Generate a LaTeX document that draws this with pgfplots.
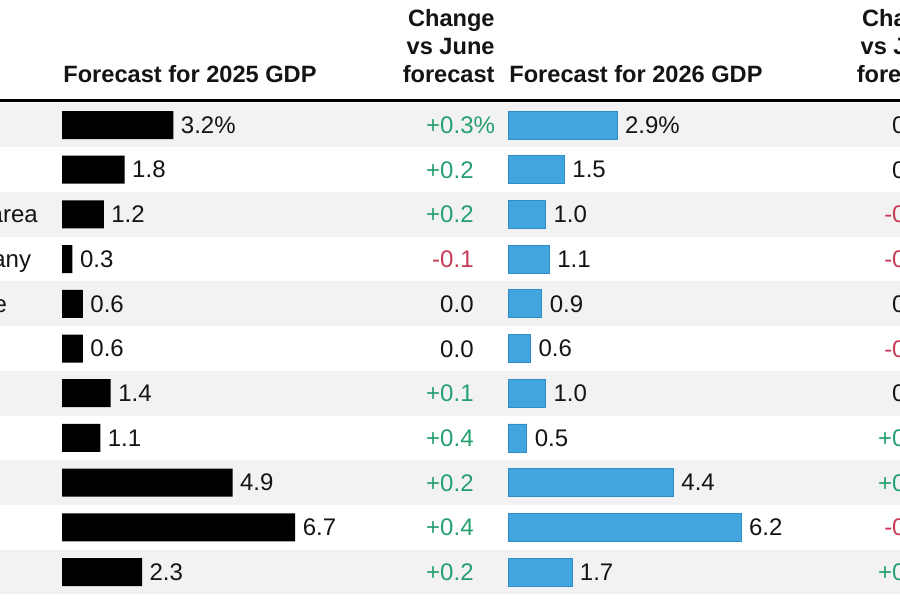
\documentclass[border=0pt]{standalone}
\usepackage{fontspec}
\setmainfont{Liberation Sans}
\usepackage{pgfplots}
\pgfplotsset{compat=1.18}

\definecolor{band}{HTML}{F2F2F2}
\definecolor{txt}{HTML}{141414}
\definecolor{pos}{HTML}{26A070}
\definecolor{neg}{HTML}{C83A55}
\definecolor{zero}{HTML}{141414}
\definecolor{gdpblue}{HTML}{42A5DE}
\definecolor{gdpblueline}{HTML}{2E8CC6}

\newcommand\vfont{\fontsize{12}{14}\selectfont}
\newcommand\hfont{\fontsize{11.8}{14}\selectfont\bfseries}

\begin{document}
\begin{tikzpicture}
\path[use as bounding box] (0,0) rectangle (450pt,300pt);
\clip (0,0) rectangle (450pt,300pt);
\fill[white] (0,0) rectangle (450pt,300pt);

% pixel grid: 1px = 0.5pt, y going down from the top edge
\begin{scope}[x=0.5pt,y=-0.5pt,shift={(0pt,300pt)}]
  % alternating row bands
  \foreach \i in {0,2,4,6,8,10}
    \fill[band] (0,{102.65+\i*44.7}) rectangle (900,{102.65+(\i+1)*44.7});
  % header rule
  \draw[line width=1.5pt,black] (0,100.2) -- (900,100.2);

  % column headers
  \tikzset{every node/.style={inner sep=0pt,text=txt}}
  \node[anchor=base west,font=\hfont] at (63,83) {Forecast for 2025 GDP};
  \node[anchor=base west,font=\hfont] at (509,83) {Forecast for 2026 GDP};
  \foreach \xx in {495,949}{
    \node[anchor=base east,font=\hfont] at (\xx,27) {Change};
    \node[anchor=base east,font=\hfont] at (\xx,55) {vs June};
    \node[anchor=base east,font=\hfont] at (\xx,83) {forecast};
  }

  % row names (cut off by the left edge)
  \foreach \r/\t in {1/World,2/U.S.,3/Euro area,4/Germany,5/France,6/Italy,
                     7/U.K.,8/Japan,9/China,10/India,11/Brazil}
    \node[anchor=base west,font=\vfont] at (-68,{125+(\r-1)*44.7+8.6}) {\t};

  % change vs June forecast, 2025
  \foreach \r/\t/\c in {1/+0.3/pos,2/+0.2/pos,3/+0.2/pos,4/-0.1/neg,5/0.0/zero,
                        6/0.0/zero,7/+0.1/pos,8/+0.4/pos,9/+0.2/pos,10/+0.4/pos,11/+0.2/pos}
    \node[anchor=base east,font=\vfont,text=\c] at (474,{125+(\r-1)*44.7+8.6})
      {\t\ifnum\r=1 \rlap{\%}\fi};

  % change vs June forecast, 2026
  \foreach \r/\t/\c in {1/0.0/zero,2/0.0/zero,3/-0.2/neg,4/-0.1/neg,5/0.0/zero,
                        6/-0.1/neg,7/0.0/zero,8/+0.1/pos,9/+0.1/pos,10/-0.1/neg,11/+0.1/pos}
    \node[anchor=base east,font=\vfont,text=\c] at (926,{125+(\r-1)*44.7+8.6})
      {\t\ifnum\r=1 \rlap{\%}\fi};
\end{scope}

% 2025 GDP forecast bars
\begin{axis}[
  at={(31pt,248.675pt)}, anchor=north west,
  x=17.4pt, y=22.35pt,
  xmin=0, xmax=8, ymin=0.5, ymax=11.5, y dir=reverse,
  axis lines=none, xbar, bar width=14pt, clip=false,
  point meta=explicit symbolic, nodes near coords,
  every node near coord/.append style={font=\vfont, text=txt, anchor=west,
    inner sep=0pt, xshift=3.6pt},
]
\addplot[fill=black, draw=none] coordinates {
  (3.2,1) [3.2\%]
  (1.8,2) [1.8]
  (1.2,3) [1.2]
  (0.3,4) [0.3]
  (0.6,5) [0.6]
  (0.6,6) [0.6]
  (1.4,7) [1.4]
  (1.1,8) [1.1]
  (4.9,9) [4.9]
  (6.7,10) [6.7]
  (2.3,11) [2.3]
};
\end{axis}

% 2026 GDP forecast bars
\begin{axis}[
  at={(254pt,248.675pt)}, anchor=north west,
  x=18.8pt, y=22.35pt,
  xmin=0, xmax=8, ymin=0.5, ymax=11.5, y dir=reverse,
  axis lines=none, xbar, bar width=14pt, clip=false,
  point meta=explicit symbolic, nodes near coords,
  every node near coord/.append style={font=\vfont, text=txt, anchor=west,
    inner sep=0pt, xshift=3.8pt},
]
\addplot[fill=gdpblue, draw=gdpblueline, line width=0.4pt] coordinates {
  (2.9,1) [2.9\%]
  (1.5,2) [1.5]
  (1.0,3) [1.0]
  (1.1,4) [1.1]
  (0.9,5) [0.9]
  (0.6,6) [0.6]
  (1.0,7) [1.0]
  (0.5,8) [0.5]
  (4.4,9) [4.4]
  (6.2,10) [6.2]
  (1.7,11) [1.7]
};
\end{axis}
\end{tikzpicture}
\end{document}
